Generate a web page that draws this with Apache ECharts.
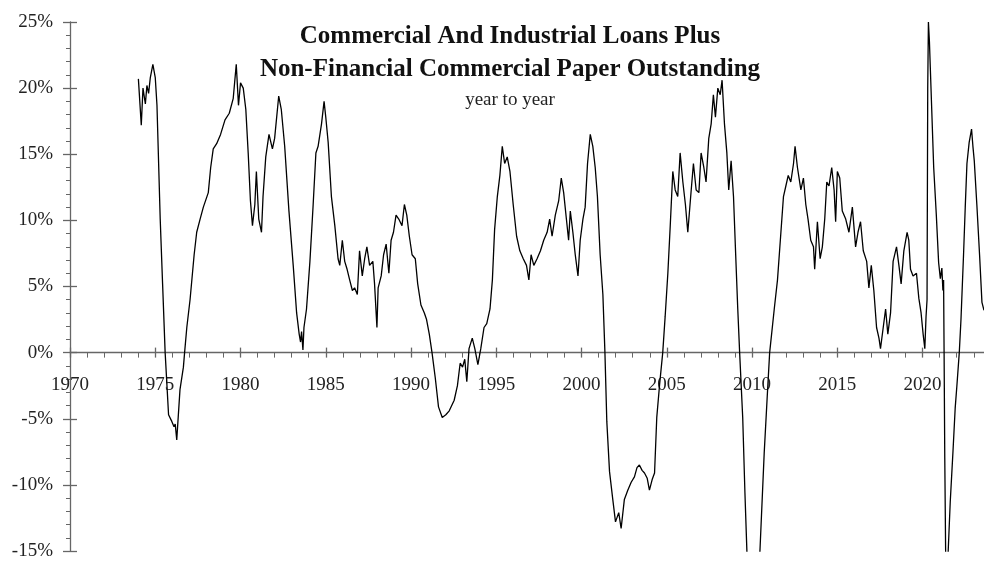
<!DOCTYPE html>
<html>
<head>
<meta charset="utf-8">
<script src="https://cdn.jsdelivr.net/npm/echarts@6/dist/echarts.min.js"></script>
<style>
html,body{margin:0;padding:0;background:#fff;}
#chart{width:984px;height:569px;}
</style>
</head>
<body>
<div id="chart"></div>
<script>
// Title texts
const titleLine1 = 'Commercial And Industrial Loans Plus';
const titleLine2 = 'Non-Financial Commercial Paper Outstanding';
const subtitle = 'year to year';

// Axis ticks
const xTickYears = [1970, 1975, 1980, 1985, 1990, 1995, 2000, 2005, 2010, 2015, 2020];
const yTickValues = [-15, -10, -5, 0, 5, 10, 15, 20, 25];

// Series: decimal year and year-over-year % change
const years = [
1974.01,1974.18,1974.28,1974.42,1974.51,1974.61,1974.71,1974.86,1975.00,1975.10,
1975.29,1975.43,1975.58,1975.78,1975.97,1976.10,1976.17,1976.26,1976.45,1976.65,
1976.72,1976.85,1977.04,1977.28,1977.43,1977.63,1977.82,1978.11,1978.25,1978.40,
1978.60,1978.83,1979.09,1979.34,1979.57,1979.75,1979.88,1980.00,1980.16,1980.31,
1980.45,1980.58,1980.70,1980.84,1980.93,1981.07,1981.23,1981.32,1981.48,1981.67,
1981.87,1982.00,1982.24,1982.39,1982.59,1982.84,1983.09,1983.29,1983.44,1983.52,
1983.58,1983.66,1983.72,1983.87,1984.07,1984.26,1984.42,1984.55,1984.75,1984.90,
1985.00,1985.14,1985.33,1985.53,1985.72,1985.82,1985.97,1986.11,1986.25,1986.40,
1986.56,1986.69,1986.85,1986.98,1987.14,1987.28,1987.41,1987.57,1987.76,1987.86,
1988.00,1988.07,1988.25,1988.39,1988.54,1988.70,1988.83,1988.97,1989.12,1989.28,
1989.47,1989.61,1989.75,1989.90,1990.06,1990.25,1990.39,1990.58,1990.78,1990.91,
1991.07,1991.23,1991.42,1991.61,1991.83,1992.04,1992.24,1992.53,1992.72,1992.88,
1993.02,1993.15,1993.27,1993.40,1993.59,1993.74,1993.92,1994.09,1994.28,1994.44,
1994.63,1994.77,1994.90,1995.06,1995.21,1995.35,1995.49,1995.64,1995.80,1995.99,
1996.19,1996.38,1996.58,1996.77,1996.91,1997.04,1997.20,1997.39,1997.59,1997.78,
1997.98,1998.13,1998.27,1998.46,1998.66,1998.81,1998.95,1999.11,1999.24,1999.34,
1999.49,1999.63,1999.79,1999.92,2000.08,2000.21,2000.35,2000.51,2000.66,2000.80,
2000.93,2001.09,2001.25,2001.37,2001.48,2001.64,2001.83,2001.99,2002.18,2002.32,
2002.51,2002.71,2002.91,2003.10,2003.25,2003.39,2003.55,2003.69,2003.85,2003.98,
2004.14,2004.28,2004.41,2004.57,2004.76,2004.90,2005.06,2005.20,2005.35,2005.49,
2005.64,2005.78,2005.94,2006.09,2006.23,2006.43,2006.56,2006.72,2006.88,2007.01,
2007.17,2007.30,2007.46,2007.60,2007.73,2007.85,2007.99,2008.13,2008.24,2008.38,
2008.52,2008.63,2008.77,2008.91,2009.02,2009.16,2009.27,2009.45,2009.58,2009.80,
2009.95,2010.10,2010.25,2010.46,2010.71,2010.88,2011.03,2011.30,2011.49,2011.69,
2011.84,2011.98,2012.12,2012.27,2012.43,2012.52,2012.66,2012.86,2013.01,2013.15,
2013.28,2013.44,2013.60,2013.67,2013.83,2013.99,2014.12,2014.26,2014.38,2014.51,
2014.67,2014.81,2014.90,2015.00,2015.14,2015.29,2015.49,2015.68,2015.88,2016.07,
2016.21,2016.36,2016.52,2016.72,2016.85,2016.99,2017.14,2017.30,2017.44,2017.53,
2017.69,2017.83,2017.96,2018.12,2018.27,2018.47,2018.61,2018.74,2018.90,2019.09,
2019.19,2019.29,2019.44,2019.64,2019.78,2019.91,2020.03,2020.13,2020.20,2020.26,
2020.30,2020.34,2020.40,2020.45,2020.65,2020.80,2020.94,2021.04,2021.13,2021.19,
2021.23,2021.26,2021.30,2021.35,2021.42,2021.50,2021.62,2021.78,2021.91,2022.01,
2022.15,2022.25,2022.40,2022.50,2022.60,2022.73,2022.87,2022.95,2023.03,2023.18,
2023.34,2023.48,2023.60
];
const values = [
20.7,17.2,20.0,18.8,20.2,19.6,20.8,21.8,20.8,18.7,
10.1,5.2,0.0,-4.7,-5.2,-5.6,-5.4,-6.6,-2.8,-1.1,
0.0,1.9,4.0,7.4,9.1,10.1,11.0,12.1,14.0,15.4,
15.8,16.5,17.6,18.1,19.2,21.8,18.7,20.4,20.0,18.4,
15.1,11.5,9.6,11.2,13.7,10.1,9.1,11.8,14.8,16.5,
15.4,16.2,19.4,18.4,15.6,10.7,6.6,3.0,1.4,0.8,
1.6,0.2,1.9,3.3,6.9,11.2,15.1,15.6,17.3,19.0,
17.8,15.9,11.8,9.6,7.1,6.6,8.5,6.9,6.3,5.5,
4.7,4.9,4.4,7.7,5.8,7.1,8.0,6.6,6.9,5.2,
1.9,4.9,5.8,7.4,8.2,6.0,8.5,9.1,10.4,10.1,
9.6,11.2,10.4,8.8,7.4,7.1,5.2,3.6,3.0,2.5,
1.4,0.0,-1.9,-4.1,-4.9,-4.7,-4.4,-3.6,-2.5,-0.8,
-1.1,-0.5,-2.2,0.3,1.1,0.3,-0.9,0.3,1.9,2.2,
3.3,5.5,9.3,11.8,13.4,15.6,14.3,14.8,13.7,11.2,
8.8,7.7,7.1,6.6,5.5,7.4,6.6,7.1,7.7,8.5,
9.1,10.1,8.8,10.4,11.5,13.2,12.1,10.1,8.5,10.7,
9.1,7.4,5.8,8.5,10.1,11.0,14.3,16.5,15.6,14.0,
11.8,7.4,4.4,0.0,-5.2,-9.0,-11.1,-12.8,-12.1,-13.3,
-11.1,-10.4,-9.8,-9.4,-8.7,-8.5,-8.9,-9.1,-9.5,-10.4,
-9.6,-9.1,-4.9,-2.5,0.0,2.7,6.0,9.6,13.7,12.3,
11.8,15.1,12.9,11.2,9.1,12.3,14.3,12.3,12.1,15.1,
14.0,12.9,16.2,17.3,19.5,17.8,20.0,19.5,20.6,17.3,
15.1,12.3,14.5,11.8,8.0,3.3,0.0,-4.9,-10.6,-19.0,
-23.5,-25.5,-21.5,-15.0,-7.6,-3.5,0.0,3.3,5.5,9.1,
11.8,12.6,13.4,12.9,14.3,15.6,14.0,12.3,13.2,11.2,
10.1,8.5,8.0,6.3,9.9,7.1,8.0,10.1,12.9,12.6,
14.0,12.3,9.9,13.7,13.2,10.7,10.1,9.1,11.0,8.0,
9.1,9.9,7.7,6.9,4.9,6.6,4.7,1.9,1.1,0.3,
1.9,3.3,1.4,3.0,6.9,8.0,6.6,5.2,7.7,9.1,
8.5,6.3,5.8,6.0,4.1,3.0,1.4,0.3,2.7,4.0,
20.0,25.0,23.5,21.6,14.0,10.5,6.8,5.6,6.4,4.7,
5.5,0.0,-8.0,-15.0,-18.0,-15.0,-11.3,-7.5,-4.2,-2.5,
0.0,2.5,7.4,11.0,14.3,15.9,16.9,15.6,14.5,11.2,
7.4,3.8,3.2
];

const seriesData = years.map((y, i) => [y, values[i]]);

const serif = '"Liberation Serif", "Times New Roman", serif';
const axisColor = '#666';
const textColor = '#222';

// grid geometry: y range -15..25 over 529px; zero line sits 198.4px above the bottom edge
const zeroOffset = -198.4;

const chart = echarts.init(document.getElementById('chart'), null, {renderer: 'canvas'});
chart.setOption({
  animation: false,
  backgroundColor: '#ffffff',
  grid: {left: 70, right: 0, top: 22, bottom: 18, containLabel: false, outerBoundsMode: 'none'},
  graphic: [
    {type: 'text', x: 510, y: 37, style: {text: titleLine1, x: 0, y: 0, textAlign: 'center', textVerticalAlign: 'middle', font: 'bold 25px ' + serif, fill: '#111'}},
    {type: 'text', x: 510, y: 70, style: {text: titleLine2, x: 0, y: 0, textAlign: 'center', textVerticalAlign: 'middle', font: 'bold 25px ' + serif, fill: '#111'}},
    {type: 'text', x: 510, y: 100, style: {text: subtitle, x: 0, y: 0, textAlign: 'center', textVerticalAlign: 'middle', font: '19px ' + serif, fill: '#222'}}
  ],
  xAxis: [
    {
      type: 'value', min: 1970, max: 2023.6, interval: 5, position: 'bottom', offset: zeroOffset,
      axisLine: {show: true, onZero: false, lineStyle: {color: axisColor, width: 1.3}},
      axisTick: {show: true, inside: false, length: 5, customValues: xTickYears, lineStyle: {color: axisColor, width: 1.3}},
      minorTick: {show: true, splitNumber: 5, length: 5, lineStyle: {color: axisColor, width: 1}},
      axisLabel: {show: true, customValues: xTickYears, margin: 23, fontFamily: serif, fontSize: 19, color: textColor, formatter: v => String(v)},
      splitLine: {show: false}, minorSplitLine: {show: false}
    },
    {
      type: 'value', min: 1970, max: 2023.6, interval: 5, position: 'bottom', offset: zeroOffset,
      axisLine: {show: false, onZero: false},
      axisTick: {show: true, inside: true, length: 5, customValues: xTickYears, lineStyle: {color: axisColor, width: 1.3}},
      minorTick: {show: false},
      axisLabel: {show: false},
      splitLine: {show: false}
    }
  ],
  yAxis: [
    {
      type: 'value', min: -15, max: 25, interval: 5, position: 'left',
      axisLine: {show: true, onZero: false, lineStyle: {color: axisColor, width: 1.3}},
      axisTick: {show: true, inside: false, length: 7, customValues: yTickValues, lineStyle: {color: axisColor, width: 1.3}},
      minorTick: {show: true, splitNumber: 5, length: 4, lineStyle: {color: axisColor, width: 1}},
      axisLabel: {show: true, customValues: yTickValues, margin: 17, fontFamily: serif, fontSize: 19, color: textColor, formatter: v => v + '%'},
      splitLine: {show: false}, minorSplitLine: {show: false}
    },
    {
      type: 'value', min: -15, max: 25, interval: 5, position: 'left', offset: 0,
      axisLine: {show: false, onZero: false},
      axisTick: {show: true, inside: true, length: 7, customValues: yTickValues, lineStyle: {color: axisColor, width: 1.3}},
      minorTick: {show: false},
      axisLabel: {show: false},
      splitLine: {show: false}
    }
  ],
  series: [{
    type: 'line',
    xAxisIndex: 0, yAxisIndex: 0,
    data: seriesData,
    showSymbol: false,
    symbol: 'none',
    clip: true,
    lineStyle: {color: '#000', width: 1.3},
    emphasis: {disabled: true}
  }]
});
</script>
</body>
</html>
